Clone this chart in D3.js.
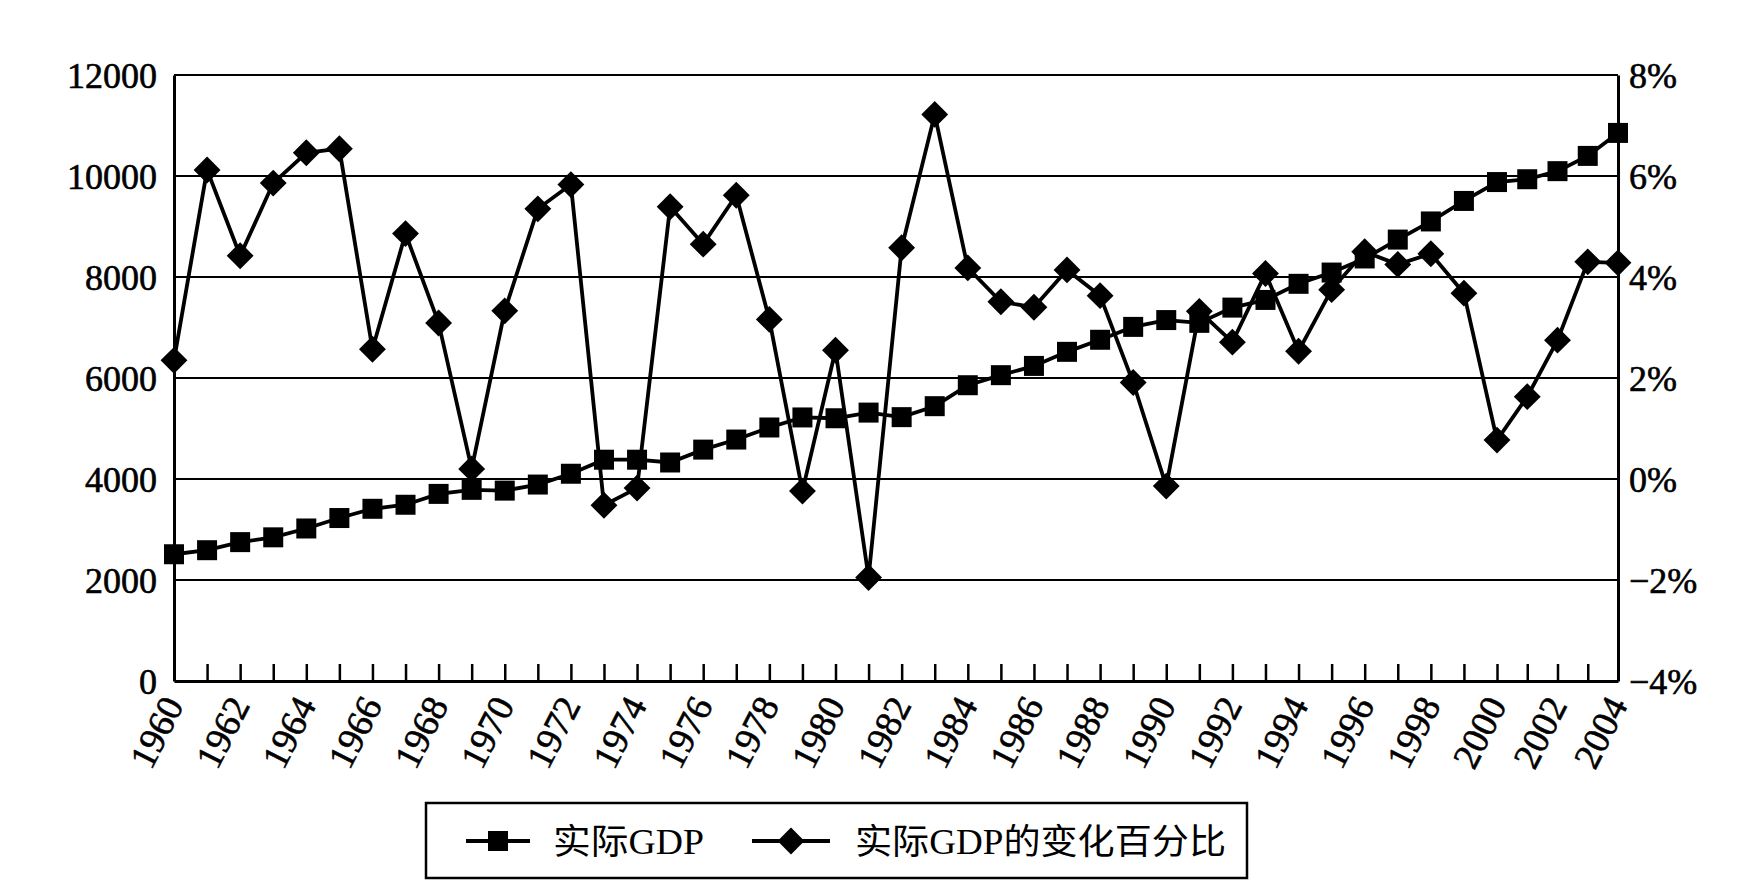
<!DOCTYPE html>
<html>
<head>
<meta charset="utf-8">
<script src="https://cdn.jsdelivr.net/npm/d3@7"></script>
<style>
  body { margin: 0; background: #fff; }
  text { font-family: "Liberation Serif", "Noto Sans CJK SC", serif; fill: #000; }
</style>
</head>
<body>
<div id="chart"></div>
<script>
// years on the x axis
var years = [1960, 1961, 1962, 1963, 1964, 1965, 1966, 1967, 1968, 1969,
  1970, 1971, 1972, 1973, 1974, 1975, 1976, 1977, 1978, 1979,
  1980, 1981, 1982, 1983, 1984, 1985, 1986, 1987, 1988, 1989,
  1990, 1991, 1992, 1993, 1994, 1995, 1996, 1997, 1998, 1999,
  2000, 2001, 2002, 2003, 2004];

// 实际GDP (left axis)
var realGdp = [2510, 2590, 2750, 2845, 3020, 3227, 3410, 3490, 3705, 3785,
  3770, 3890, 4104, 4382, 4382, 4327, 4582, 4781, 5020, 5219,
  5203, 5315, 5225, 5442, 5857, 6056, 6239, 6518, 6757, 7012,
  7147, 7092, 7394, 7546, 7865, 8088, 8367, 8741, 9100, 9506,
  9880, 9936, 10096, 10398, 10853];

// 实际GDP的变化百分比 (right axis, %)
var gdpChange = [2.35, 6.12, 4.42, 5.86, 6.46, 6.54, 2.57, 4.86, 3.09, 0.2,
  3.33, 5.35, 5.83, -0.52, -0.18, 5.39, 4.65, 5.62, 3.16, -0.24,
  2.55, -1.95, 4.58, 7.22, 4.18, 3.51, 3.40, 4.14, 3.63, 1.91,
  -0.14, 3.32, 2.71, 4.07, 2.53, 3.75, 4.50, 4.25, 4.46, 3.68,
  0.77, 1.63, 2.75, 4.30, 4.28];

var leftTicks = [0, 2000, 4000, 6000, 8000, 10000, 12000];
var rightTicks = [-4, -2, 0, 2, 4, 6, 8];
var seriesNames = ["实际GDP", "实际GDP的变化百分比"];

var width = 1759;
var height = 893;
var plotLeft = 174, plotRight = 1618, plotTop = 75, plotBottom = 681;

var svg = d3.select('#chart')
  .append('svg')
  .attr('width', width)
  .attr('height', height);

//escalas (the last years sit a bit closer together in the original)
var xscale = d3.scaleLinear()
  .domain([1960, 2000, 2004])
  .range([plotLeft, 1497, plotRight]);

var yleft = d3.scaleLinear()
  .domain([0, 12000])
  .range([plotBottom, plotTop]);

var yright = d3.scaleLinear()
  .domain([-4, 8])
  .range([plotBottom, plotTop]);

//gridlines
svg.append("g")
  .selectAll("line")
  .data(leftTicks.slice(1))
  .enter()
  .append("line")
  .attr("x1", plotLeft)
  .attr("x2", plotRight)
  .attr("y1", d => yleft(d))
  .attr("y2", d => yleft(d))
  .attr("stroke", "#000")
  .attr("stroke-width", 2);

//left axis
var gl = svg.append("g")
  .attr("transform", "translate(" + plotLeft + ",0)")
  .call(d3.axisLeft(yleft).tickValues(leftTicks).tickSize(0).tickPadding(17).tickFormat(d3.format("d")));

//right axis
var gr = svg.append("g")
  .attr("transform", "translate(" + plotRight + ",0)")
  .call(d3.axisRight(yright).tickValues(rightTicks).tickSize(0).tickPadding(11)
    .tickFormat(d => (d < 0 ? "\u2212" + Math.abs(d) : d) + "%"));

//bottom axis
var gb = svg.append("g")
  .attr("transform", "translate(0," + plotBottom + ")")
  .call(d3.axisBottom(xscale).tickValues(years).tickSize(-17).tickSizeOuter(0)
    .tickFormat(d => d % 2 === 0 ? d : ""));

[gl, gr, gb].forEach(function(g) {
  g.select(".domain").attr("stroke", "#000").attr("stroke-width", 3);
  g.selectAll(".tick line").attr("stroke", "#000").attr("stroke-width", 2.5);
  g.selectAll("text").style("font-size", "36px").attr("fill", "#000")
    .style("font-family", "'Liberation Serif', serif")
    .attr("stroke", "#000").attr("stroke-width", 0.6);
});
gl.selectAll("text").attr("dy", "0.34em");
gr.selectAll("text").attr("dy", "0.34em");

gb.selectAll(".tick text")
  .attr("text-anchor", "end")
  .attr("dy", null)
  .attr("y", 0)
  .style("font-size", "37px")
  .attr("transform", "translate(10,24) rotate(-63)");

//lines
var lineGdp = d3.line()
  .x((d, i) => xscale(years[i]))
  .y(d => yleft(d));

var lineChange = d3.line()
  .x((d, i) => xscale(years[i]))
  .y(d => yright(d));

svg.append("path")
  .datum(realGdp)
  .attr("d", lineGdp)
  .attr("fill", "none")
  .attr("stroke", "#000")
  .attr("stroke-width", 3.8);

svg.append("path")
  .datum(gdpChange)
  .attr("d", lineChange)
  .attr("fill", "none")
  .attr("stroke", "#000")
  .attr("stroke-width", 3.8);

var square = d3.symbol().type(d3.symbolSquare).size(400);
var diamond = d3.symbol().type(d3.symbolSquare).size(361);

svg.append("g")
  .selectAll("path")
  .data(gdpChange)
  .enter()
  .append("path")
  .attr("d", diamond)
  .attr("transform", (d, i) => "translate(" + xscale(years[i]) + "," + yright(d) + ") rotate(45)")
  .attr("fill", "#000");

svg.append("g")
  .selectAll("path")
  .data(realGdp)
  .enter()
  .append("path")
  .attr("d", square)
  .attr("transform", (d, i) => "translate(" + xscale(years[i]) + "," + yleft(d) + ")")
  .attr("fill", "#000");

//legend
var legend = svg.append("g");
legend.append("rect")
  .attr("x", 426)
  .attr("y", 803)
  .attr("width", 821)
  .attr("height", 75)
  .attr("fill", "#fff")
  .attr("stroke", "#000")
  .attr("stroke-width", 2.5);

var ly = 841;
var items = [
  { x1: 466, x2: 530, text: 553, tw: 151, sym: square, rot: 0 },
  { x1: 752, x2: 830, text: 855, tw: 371, sym: diamond, rot: 45 }
];
items.forEach(function(it, i) {
  legend.append("line")
    .attr("x1", it.x1).attr("x2", it.x2)
    .attr("y1", ly).attr("y2", ly)
    .attr("stroke", "#000")
    .attr("stroke-width", 3.8);
  legend.append("path")
    .attr("d", it.sym)
    .attr("transform", "translate(" + (it.x1 + it.x2) / 2 + "," + ly + ") rotate(" + it.rot + ")")
    .attr("fill", "#000");
  legend.append("text")
    .attr("x", it.text)
    .attr("y", ly)
    .attr("dy", "0.36em")
    .attr("textLength", it.tw)
    .attr("lengthAdjust", "spacingAndGlyphs")
    .style("font-size", "35px")
    .text(seriesNames[i]);
});
</script>
</body>
</html>
